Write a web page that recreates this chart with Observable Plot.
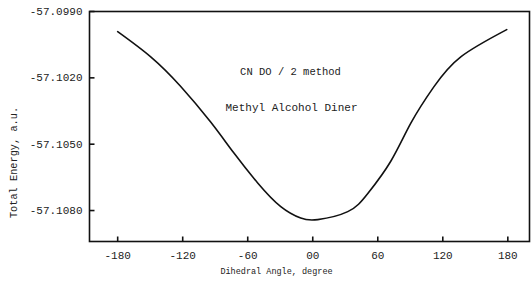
<!DOCTYPE html>
<html>
<head>
<meta charset="utf-8">
<script src="https://cdn.jsdelivr.net/npm/d3@7"></script>
<script src="https://cdn.jsdelivr.net/npm/@observablehq/plot@0.6"></script>
<style>
  html, body { margin: 0; padding: 0; background: #fff; }
  svg { display: block; }
</style>
</head>
<body>
<div id="chart"></div>
<script>
// Dihedral angle (degree) and total energy (a.u.)
const angles = [-180, -149.5, -121.8, -94.2, -72.9, -50.8, -29.5, -11.1, 4.6, 32.3, 50.8, 72, 90.5, 111.7, 136.6, 179];
const energies = [-57.09991, -57.10105, -57.10239, -57.10400, -57.10539, -57.10675, -57.10782, -57.10834, -57.10841, -57.10805, -57.10723, -57.10577, -57.10405, -57.10241, -57.10105, -57.09982];
const xTicks = [-180, -120, -60, 0, 60, 120, 180];
const yTicks = [-57.0990, -57.1020, -57.1050, -57.1080];
const xTitle = "Dihedral Angle, degree";
const yTitle = "Total Energy, a.u.";
const notes = ["CN DO / 2 method", "Methyl Alcohol Diner"];

const xDomain = [-206, 200];
const yDomain = [-57.1094, -57.0990];

const data = angles.map((a, i) => ({angle: a, energy: energies[i]}));
const font = "Liberation Mono, DejaVu Sans Mono, monospace";
const W = 531, H = 282, mL = 89, mR = 2, mT = 11, mB = 41;
const tickLen = 5;

// inward tick glyphs (custom symbols)
const upTick = {draw(ctx) { ctx.moveTo(0, 0); ctx.lineTo(0, -tickLen); }};
const rightTick = {draw(ctx) { ctx.moveTo(0, 0); ctx.lineTo(tickLen, 0); }};

const chart = Plot.plot({
  width: W,
  height: H,
  marginLeft: mL,
  marginRight: mR,
  marginTop: mT,
  marginBottom: mB,
  style: {fontFamily: font, fontSize: "11px", color: "#222", background: "#fff"},
  x: {domain: xDomain},
  y: {domain: yDomain},
  marks: [
    Plot.frame({stroke: "#111", strokeWidth: 1.6}),
    Plot.axisX({ticks: xTicks, tickSize: 0, tickPadding: 10, tickFormat: d => d === 0 ? "00" : String(d), label: null, fontSize: 11}),
    Plot.axisY({ticks: yTicks, tickSize: 0, tickPadding: 7, tickFormat: d => d.toFixed(4), label: null, fontSize: 11}),
    // inward tick marks
    Plot.dot(xTicks, {x: d => d, frameAnchor: "bottom", symbol: upTick, r: 3, fill: "none", stroke: "#111", strokeWidth: 1.6}),
    Plot.dot(yTicks, {y: d => d, frameAnchor: "left", symbol: rightTick, r: 3, fill: "none", stroke: "#111", strokeWidth: 1.6}),
    Plot.line(data, {x: "angle", y: "energy", curve: "natural", stroke: "#111", strokeWidth: 1.6}),
    Plot.text([yTitle], {text: d => d, frameAnchor: "left", textAnchor: "middle", rotate: -90, dx: -76, dy: 36, fontSize: 10.3, fill: "#222"}),
    Plot.text([xTitle], {text: d => d, frameAnchor: "bottom", dx: -33, dy: 32, fontSize: 8.5, fill: "#222"}),
    Plot.text([notes[0]], {text: d => d, frameAnchor: "top", dx: -19, dy: 56, fontSize: 10.5, fill: "#222"}),
    Plot.text([notes[1]], {text: d => d, frameAnchor: "top", dx: -18, dy: 92, fontSize: 11, fill: "#222"})
  ]
});
document.getElementById("chart").append(chart);
</script>
</body>
</html>
